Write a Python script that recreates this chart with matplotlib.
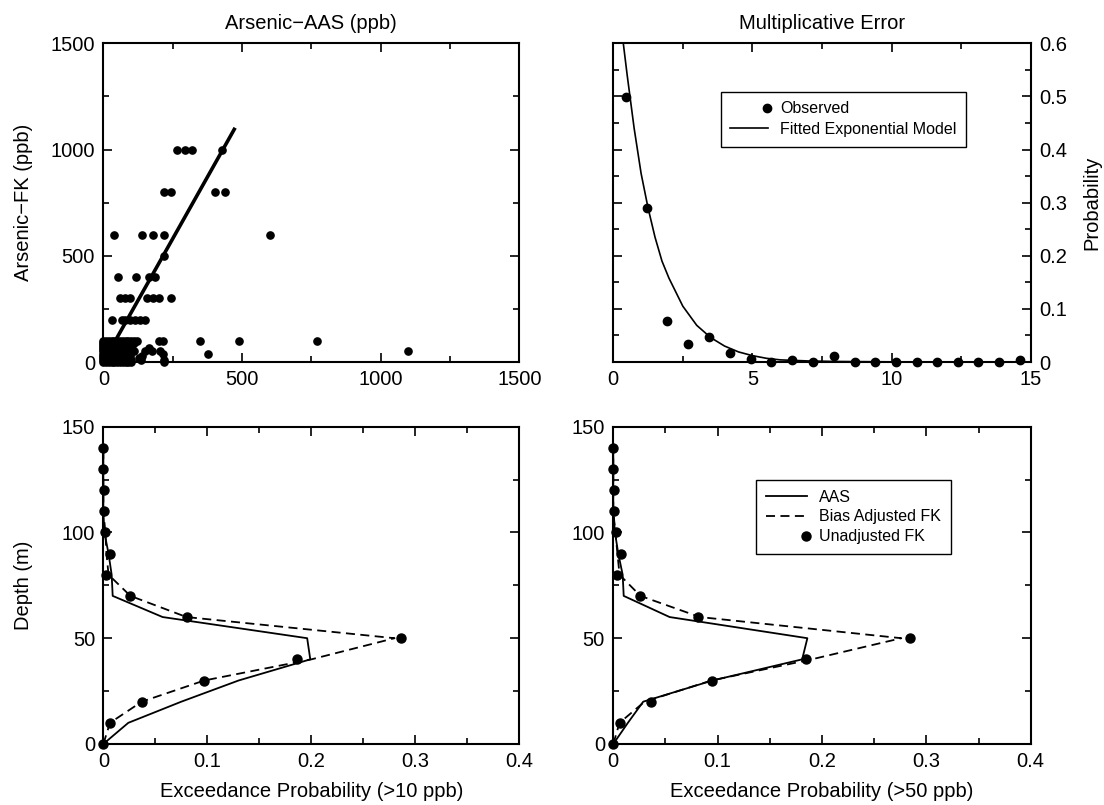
import matplotlib
matplotlib.use('Agg')
import matplotlib.pyplot as plt
from matplotlib.ticker import MultipleLocator, FuncFormatter
from matplotlib.lines import Line2D
from matplotlib.legend_handler import HandlerLine2DCompound

plt.rcParams['font.family'] = ['Liberation Sans', 'DejaVu Sans']

# Arsenic-AAS vs Arsenic-FK (ppb)
aas_ppb = [
    265, 295, 319, 428,
    217, 245, 401, 440,
    39, 141, 178, 219, 600,
    219,
    54, 118, 163, 187,
    60, 78, 96, 156, 180, 202, 243,
    30, 66, 78, 96, 114, 132, 150,
    0, 10, 20, 30, 40, 50, 60, 70, 80, 90, 100, 110, 120, 200, 215, 350, 490, 770,
    0, 10, 20, 30, 40, 50, 60, 70, 80, 90, 100, 110,
    0, 10, 20, 30, 40, 50, 60, 70, 80, 90, 105,
    0, 10, 20, 30, 40, 50, 60, 70, 80, 90, 100,
    0, 10, 20, 30, 40, 50, 60, 70, 80, 90, 100, 165,
    0, 10, 20, 30, 40, 50, 60, 70, 80, 90, 100, 110, 150, 175, 205, 1100,
    0, 10, 20, 30, 40, 50, 60, 70, 80, 90, 215, 379,
    0, 10, 20, 30, 40, 50, 60, 70, 80, 95, 140,
    0, 10, 20, 30, 40, 50, 60, 70, 80, 90, 130,
    0, 10, 20, 30, 40, 50, 60, 70, 80, 90, 100, 135, 220,
    0, 10, 20, 30, 40, 50, 60, 70, 80, 90, 100, 220,
]
fk_ppb = [
    1000, 1000, 1000, 1000,
    800, 800, 800, 800,
    600, 600, 600, 600, 600,
    500,
    400, 400, 400, 400,
    300, 300, 300, 300, 300, 300, 300,
    200, 200, 200, 200, 200, 200, 200,
    100, 100, 100, 100, 100, 100, 100, 100, 100, 100, 100, 100, 100, 100, 100, 100, 100, 100,
    90, 90, 90, 90, 90, 90, 90, 90, 90, 90, 90, 90,
    80, 80, 80, 80, 80, 80, 80, 80, 80, 80, 80,
    70, 70, 70, 70, 70, 70, 70, 70, 70, 70, 70,
    60, 60, 60, 60, 60, 60, 60, 60, 60, 60, 60, 65,
    50, 50, 50, 50, 50, 50, 50, 50, 50, 50, 50, 50, 50, 50, 50, 50,
    40, 40, 40, 40, 40, 40, 40, 40, 40, 40, 40, 40,
    30, 30, 30, 30, 30, 30, 30, 30, 30, 30, 30,
    20, 20, 20, 20, 20, 20, 20, 20, 20, 20, 20,
    10, 10, 10, 10, 10, 10, 10, 10, 10, 10, 10, 10, 10,
    0, 0, 0, 0, 0, 0, 0, 0, 0, 0, 0, 0,
]
fit_x = [0, 472]
fit_y = [0, 1095]

# multiplicative error
err_x = [0.44, 1.2, 1.94, 2.69, 3.43, 4.19, 4.95, 5.68, 6.41, 7.18, 7.92,
         8.67, 9.4, 10.16, 10.92, 11.64, 12.4, 13.1, 13.87, 14.61]
err_p = [0.498, 0.29, 0.078, 0.034, 0.047, 0.017, 0.005, 0.0, 0.004, 0.0, 0.011,
         0.0, 0.0, 0.0, 0.0, 0.0, 0.0, 0.0, 0.0, 0.004]
model_x = [0.36, 0.5, 0.75, 1.0, 1.25, 1.5, 1.75, 2.0, 2.5, 3.0, 3.5, 4.0,
           4.5, 5.0, 5.5, 6.0, 7.0, 8.0, 10.0, 15.0]
model_p = [0.60, 0.54, 0.44, 0.355, 0.29, 0.235, 0.19, 0.158, 0.105, 0.069, 0.046, 0.030,
           0.019, 0.012, 0.007, 0.004, 0.002, 0.001, 0.0003, 0.0]

# exceedance probability by depth
depth = [0, 10, 20, 30, 40, 50, 60, 70, 80, 90, 100, 110, 120, 130, 140]
aas_10 = [0, 0.024, 0.075, 0.13, 0.199, 0.196, 0.057, 0.009, 0.008, 0.005, 0.001, 0, 0, 0, 0]
adj_10 = [0, 0.0064, 0.037, 0.097, 0.2, 0.28, 0.08, 0.026, 0.005, 0.003, 0.002, 0, 0, 0, 0]
raw_10 = [0, 0.0064, 0.037, 0.097, 0.186, 0.286, 0.08, 0.0257, 0.0026, 0.0064, 0.002,
          0.0005, 0.0005, 0, 0]
aas_50 = [0, 0.014, 0.0287, 0.095, 0.181, 0.186, 0.054, 0.010, 0.009, 0.0048, 0.0016, 0, 0, 0, 0]
adj_50 = [0, 0.006, 0.03, 0.094, 0.19, 0.276, 0.083, 0.026, 0.006, 0.004, 0.002, 0, 0, 0, 0]
raw_50 = [0, 0.006, 0.036, 0.095, 0.185, 0.284, 0.081, 0.026, 0.004, 0.007, 0.003,
          0.001, 0.001, 0, 0]

FS = 14.5
fmt = FuncFormatter(lambda v, p: '%g' % round(v, 6))


class RightMarker(HandlerLine2DCompound):
    # marker sits at the right end of the legend handle, as in the original
    def get_xdata(self, legend, xdescent, ydescent, width, height, fontsize):
        xdata, _ = super().get_xdata(legend, xdescent, ydescent, width, height, fontsize)
        return xdata, [-xdescent + width * 0.97]


def style(ax):
    ax.tick_params(which='both', direction='in', top=True, right=True,
                   labelsize=FS, width=1.2, pad=6)
    ax.tick_params(which='major', length=6.5)
    ax.tick_params(which='minor', length=4)
    for s in ax.spines.values():
        s.set_linewidth(1.5)
    ax.xaxis.set_major_formatter(fmt)
    ax.yaxis.set_major_formatter(fmt)


fig = plt.figure(figsize=(11.04, 8.05), dpi=100)
ax1 = fig.add_axes([0.0936, 0.5503, 0.3768, 0.3959])
ax2 = fig.add_axes([0.5555, 0.5503, 0.3781, 0.3959])
ax3 = fig.add_axes([0.0936, 0.0758, 0.3768, 0.3942])
ax4 = fig.add_axes([0.5555, 0.0758, 0.3781, 0.3942])

# top left
ax1.plot(aas_ppb, fk_ppb, 'o', color='black', markersize=5.2, clip_on=False)
ax1.plot(fit_x, fit_y, '-', color='black', lw=2.6)
ax1.set_xlim(0, 1500)
ax1.set_ylim(0, 1500)
ax1.xaxis.set_major_locator(MultipleLocator(500))
ax1.xaxis.set_minor_locator(MultipleLocator(250))
ax1.yaxis.set_major_locator(MultipleLocator(500))
ax1.yaxis.set_minor_locator(MultipleLocator(250))
style(ax1)
ax1.set_title('Arsenic\u2212AAS (ppb)', fontsize=FS, pad=10)
ax1.set_ylabel('Arsenic\u2212FK (ppb)', fontsize=FS)
ax1.yaxis.set_label_coords(-0.169, 0.5)

# top right
ax2.plot(model_x, model_p, '-', color='black', lw=1.2)
ax2.plot(err_x, err_p, 'o', color='black', markersize=6, clip_on=False)
ax2.set_xlim(0, 15)
ax2.set_ylim(0, 0.6)
ax2.xaxis.set_major_locator(MultipleLocator(5))
ax2.xaxis.set_minor_locator(MultipleLocator(2.5))
ax2.yaxis.set_major_locator(MultipleLocator(0.1))
ax2.yaxis.set_minor_locator(MultipleLocator(0.05))
style(ax2)
ax2.tick_params(which='both', labelleft=False, labelright=True)
ax2.yaxis.set_label_position('right')
ax2.set_ylabel('Probability', fontsize=FS)
ax2.yaxis.set_label_coords(1.124, 0.5)
ax2.set_title('Multiplicative Error', fontsize=FS, pad=10)
obs_h = Line2D([], [], ls='none', marker='o', color='black', markersize=6)
fit_h = Line2D([], [], ls='-', color='black', lw=1.2)
leg2 = ax2.legend([obs_h, fit_h], ['Observed', 'Fitted Exponential Model'], loc='upper left',
                  bbox_to_anchor=(0.257, 0.848), fontsize=11.5, frameon=True,
                  fancybox=False, edgecolor='black', framealpha=1, borderpad=0.6,
                  handlelength=2.4, handletextpad=0.75, labelspacing=0.35,
                  borderaxespad=0, handler_map={obs_h: RightMarker(numpoints=1)})
leg2.get_frame().set_linewidth(1.0)

# bottom panels
raw_handles = []
for ax, aas, adj, raw, lab in [(ax3, aas_10, adj_10, raw_10, '>10 ppb'),
                               (ax4, aas_50, adj_50, raw_50, '>50 ppb')]:
    ax.plot(aas, depth, '-', color='black', lw=1.3, label='AAS')
    ax.plot(adj, depth, '--', color='black', lw=1.3, dashes=(5, 3), label='Bias Adjusted FK')
    h, = ax.plot(raw, depth, 'o', color='black', markersize=6.5, clip_on=False,
                 label='Unadjusted FK')
    raw_handles.append(h)
    ax.set_xlim(0, 0.4)
    ax.set_ylim(0, 150)
    ax.xaxis.set_major_locator(MultipleLocator(0.1))
    ax.xaxis.set_minor_locator(MultipleLocator(0.05))
    ax.yaxis.set_major_locator(MultipleLocator(50))
    ax.yaxis.set_minor_locator(MultipleLocator(25))
    style(ax)
    ax.set_xlabel('Exceedance Probability (%s)' % lab, fontsize=FS, labelpad=8)

ax3.set_ylabel('Depth (m)', fontsize=FS)
ax3.yaxis.set_label_coords(-0.169, 0.5)
leg4 = ax4.legend(loc='upper left', bbox_to_anchor=(0.342, 0.832), fontsize=11.5,
                  frameon=True, fancybox=False, edgecolor='black', framealpha=1,
                  borderpad=0.6, handlelength=2.6, handletextpad=0.75,
                  labelspacing=0.3, borderaxespad=0, numpoints=1,
                  handler_map={raw_handles[1]: RightMarker(numpoints=1)})
leg4.get_frame().set_linewidth(1.0)

fig.savefig('out.png', dpi=100)
